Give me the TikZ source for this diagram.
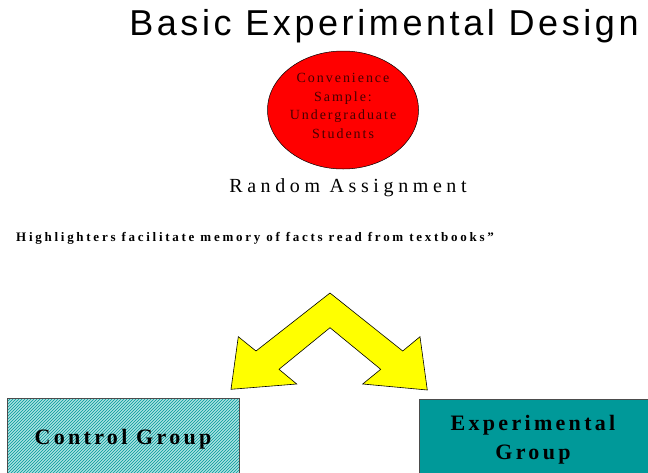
\documentclass[tikz,border=0pt]{standalone}
\usepackage{fontspec}
\setmainfont{Liberation Serif}
\newfontfamily\titlefont{Liberation Sans}[LetterSpace=10]
\newfontfamily\spacedserif{Liberation Serif}[LetterSpace=23]
\newfontfamily\ellserif{Liberation Serif}[LetterSpace=14]
\newfontfamily\boldspaced{Liberation Serif}[LetterSpace=15]
\newfontfamily\hlserif{Liberation Serif}[LetterSpace=21]
\usetikzlibrary{patterns,shapes.geometric}
\definecolor{tealbox}{RGB}{0,153,153}
\definecolor{hatchbg}{RGB}{170,225,225}
\definecolor{ellred}{RGB}{255,0,0}
\definecolor{elltext}{RGB}{70,0,0}
\definecolor{arrowyellow}{RGB}{255,255,0}
\tikzset{
  boxstyle/.style={draw=black!70, line width=0.5pt},
  lbl/.style={inner sep=0pt, anchor=center},
}
\begin{document}
\begin{tikzpicture}[x=1pt,y=-1pt]
\useasboundingbox (0,0) rectangle (648,472);
% title
\node[lbl, font=\titlefont\fontsize{36}{40}\selectfont] (title) at (384,26) {Basic Experimental Design};
% ellipse
\node[ellipse, draw=black, line width=0.5pt, fill=ellred, minimum width=151pt, minimum height=118pt, inner sep=0pt] (sample) at (343,110) {};
\node[lbl, align=center, text=elltext, font=\ellserif\fontsize{14}{18.5}\selectfont] (sampletext) at (343,106) {Convenience\\Sample:\\Undergraduate\\Students};
% random assignment
\node[lbl, font=\spacedserif\fontsize{20}{24}\selectfont] (random) at (348,188) {Random Assignment};
% hypothesis
\node[lbl, anchor=west, font=\hlserif\fontsize{13}{15}\selectfont\bfseries] (hyp) at (16,238) {Highlighters facilitate memory of facts read from textbooks”};
% arrow
\draw[draw=black, line width=0.6pt, fill=arrowyellow, line join=miter]
  (330,293) -- (402.7,351) -- (420,336.7) -- (427.3,390) -- (362.7,384) -- (380.7,369.3)
  -- (330,327.7) -- (279,369.3) -- (296.7,384) -- (231,389.3) -- (238.3,336.7) -- (256,351) -- cycle;
% control group box
\fill[hatchbg] (7,398) rectangle (239,474);
\fill[pattern=north east lines, pattern color=tealbox] (7,398) rectangle (239,474);
\draw[boxstyle] (7,398) rectangle (239,474);
\node[lbl, font=\boldspaced\fontsize{22}{26}\selectfont\bfseries] (control) at (123,439) {Control Group};
% experimental group box
\draw[boxstyle, fill=tealbox] (419,399) rectangle (650,474);
\node[lbl, align=center, font=\boldspaced\fontsize{22}{29}\selectfont\bfseries] (exper) at (533,440) {Experimental\\Group};
\end{tikzpicture}
\end{document}
